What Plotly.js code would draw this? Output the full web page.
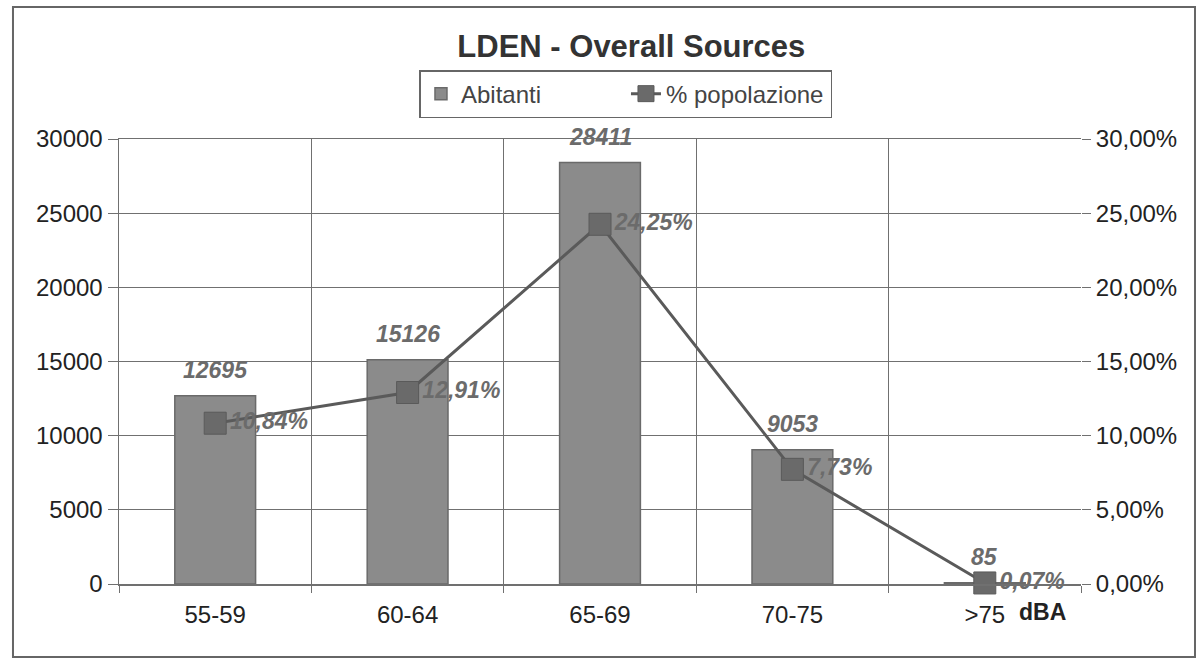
<!DOCTYPE html>
<html>
<head>
<meta charset="utf-8">
<script src="https://cdn.plot.ly/plotly-3.0.1.min.js"></script>
<style>html,body{margin:0;padding:0;background:#fff;}#chart{width:1198px;height:659px;}</style>
</head>
<body>
<div id="chart"></div>
<script>
const categories = ["55-59", "60-64", "65-69", "70-75", ">75"];
const abitanti = [12695, 15126, 28411, 9053, 85];
const popolazione = [0.1084, 0.1291, 0.2425, 0.0773, 0.0007];
const pctLabels = ["10,84%", "12,91%", "24,25%", "7,73%", "0,07%"];
const leftTicks = [0, 5000, 10000, 15000, 20000, 25000, 30000];
const rightTicks = [0, 0.05, 0.10, 0.15, 0.20, 0.25, 0.30];

const FONT = "Liberation Sans, Arial, sans-serif";

const bars = {
  type: "bar", name: "Abitanti", x: categories, y: abitanti,
  width: 0.42,
  marker: {color: "#8b8b8b", line: {color: "#6a6a6a", width: 1.5}},
  yaxis: "y", hoverinfo: "skip"
};
const line = {
  type: "scatter", mode: "lines+markers+text", name: "% popolazione",
  x: categories, y: popolazione, yaxis: "y2",
  text: pctLabels, textposition: "middle right",
  textfont: {family: FONT, size: 23, color: "#6b6b6b", weight: "bold", style: "italic"},
  line: {color: "#5a5a5a", width: 3},
  marker: {symbol: "square", size: 22, color: "#6a6a6a", line: {color: "#5a5a5a", width: 1}},
  cliponaxis: false
};

const annotations = categories.map((c, i) => ({
  x: c, y: abitanti[i], xref: "x", yref: "y",
  text: String(abitanti[i]), showarrow: false, yanchor: "bottom", yshift: 11,
  font: {family: FONT, size: 23, color: "#6b6b6b", weight: "bold", style: "italic"}
}));
annotations.push({
  x: 0.986, y: -0.03, xref: "paper", yref: "paper", xanchor: "right", yanchor: "top",
  text: "dBA", showarrow: false,
  font: {family: FONT, size: 23, color: "#222", weight: "bold"}
});

const layout = {
  width: 1198, height: 659,
  paper_bgcolor: "#fff", plot_bgcolor: "#fff",
  separators: ",.",
  margin: {l: 119, r: 117, t: 139, b: 75},
  font: {family: FONT, size: 24, color: "#222"},
  title: {text: "<b>LDEN - Overall Sources</b>", x: 0.527, xanchor: "center", y: 0.93, yanchor: "middle",
          font: {family: FONT, size: 31, color: "#333"}},
  showlegend: true,
  legend: {orientation: "h", x: 0.527, xanchor: "center", y: 1.101, yanchor: "middle",
           bordercolor: "#666", borderwidth: 1.5, bgcolor: "#fff",
           font: {family: FONT, size: 24, color: "#444"}, entrywidth: 160, traceorder: "normal"},
  xaxis: {type: "category", tickson: "boundaries", showgrid: true, gridcolor: "#707070", gridwidth: 1,
          ticks: "outside", ticklen: 7, tickcolor: "#707070", showline: true, linecolor: "#707070", linewidth: 1.5,
          mirror: true, range: [-0.5, 4.5], ticklabelstandoff: 9,
          tickfont: {family: FONT, size: 24, color: "#222"}},
  yaxis: {range: [0, 30000], tickvals: leftTicks, ticktext: leftTicks.map(String), showgrid: true,
          gridcolor: "#707070", gridwidth: 1, ticks: "outside", ticklen: 10, tickcolor: "#707070",
          showline: true, linecolor: "#707070", linewidth: 1.5, zeroline: false,
          tickfont: {family: FONT, size: 24, color: "#222"}},
  yaxis2: {overlaying: "y", side: "right", range: [0, 0.30], tickvals: rightTicks,
           tickformat: ".2%", showgrid: false, ticks: "outside", ticklen: 9, tickcolor: "#707070",
           showline: false, zeroline: false, tickfont: {family: FONT, size: 24, color: "#222"}},
  annotations: annotations,
  shapes: [{type: "rect", xref: "paper", yref: "paper", x0: -0.1102, x1: 1.1185, y0: -0.164, y1: 1.2966,
            line: {color: "#666", width: 2}, layer: "below"}]
};

Plotly.newPlot("chart", [bars, line], layout, {displayModeBar: false, staticPlot: true});
</script>
</body>
</html>
